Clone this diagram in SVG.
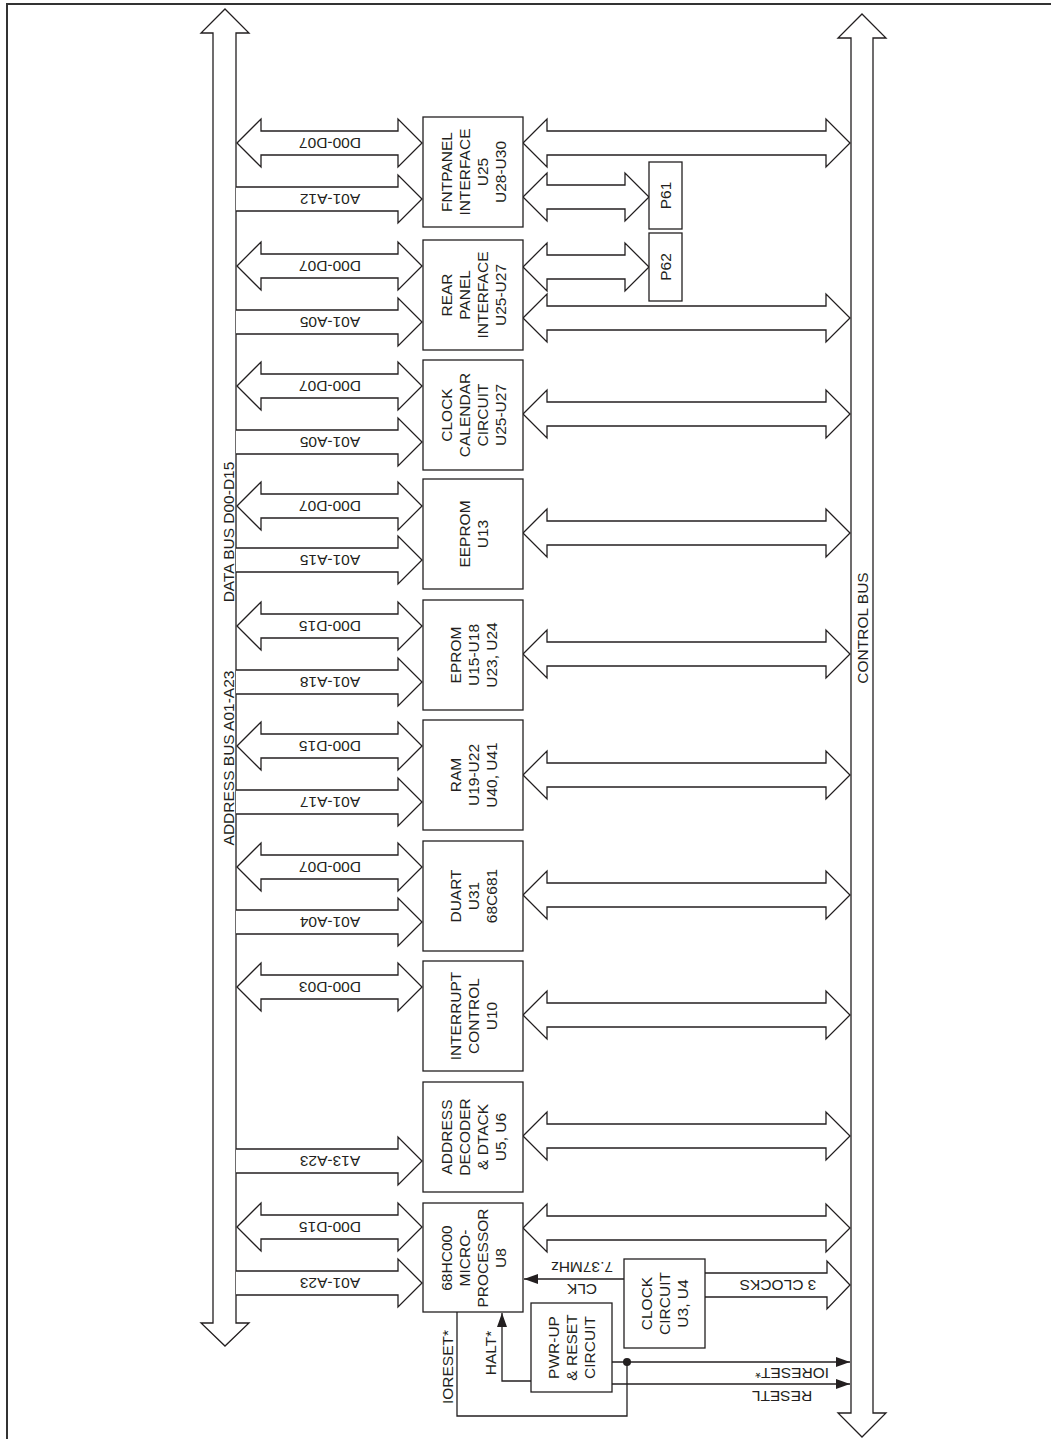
<svg xmlns="http://www.w3.org/2000/svg" xmlns:xlink="http://www.w3.org/1999/xlink" width="1051" height="1439" viewBox="0 0 1051 1439">
<style>
.ln{fill:none;stroke:#231f20;stroke-width:1.3}
.ar{fill:#fff;stroke:#231f20;stroke-width:1.3;stroke-linejoin:miter}
.bx{fill:#fff;stroke:#231f20;stroke-width:1.3}
.t{font-family:"Liberation Sans",Arial,sans-serif;font-size:15.5px;fill:#231f20;text-anchor:middle}
.frame{fill:none;stroke:#333;stroke-width:2}
</style>
<defs>
<path id="dataArrow" class="ar" d="M237 0 L261 -24 L261 -12 L398 -12 L398 -24 L422 0 L398 24 L398 12 L261 12 L261 24 Z"/>
<path id="addrArrow" class="ar" d="M236 -12 L398 -12 L398 -24 L422 0 L398 24 L398 12 L236 12"/>
<path id="ctrlArrow" class="ar" d="M523 0 L547 -24 L547 -12 L826 -12 L826 -24 L850 0 L826 24 L826 12 L547 12 L547 24 Z"/>
<path id="pArrow" class="ar" d="M523 0 L547 -24 L547 -12 L625 -12 L625 -24 L649 0 L625 24 L625 12 L547 12 L547 24 Z"/>
<marker id="head" markerUnits="userSpaceOnUse" markerWidth="16" markerHeight="12" refX="14" refY="5" orient="auto">
<path d="M0 0 L14 5 L0 10 Z" fill="#231f20"/>
</marker>
</defs>
<rect width="1051" height="1439" fill="#fff"/>
<path class="frame" d="M7 1439 L7 4 L1051 4"/>

<g id="address-data-bus">
<path class="ar" d="M225 9 L249 33 L236 33 L236 1323 L249 1323 L225 1346 L201 1323 L213 1323 L213 33 L201 33 Z"/>
<text class="t" x="228" y="763.5" transform="rotate(-90 228 758)">ADDRESS BUS A01-A23</text>
<text class="t" x="228" y="537.5" transform="rotate(-90 228 532)">DATA BUS D00-D15</text>
</g>
<g id="control-bus">
<path class="ar" d="M862 14 L886 38 L873 38 L873 1413 L886 1413 L862 1437 L838 1413 L851 1413 L851 38 L838 38 Z"/>
<text class="t" x="862" y="633.5" transform="rotate(-90 862 628)">CONTROL BUS</text>
</g>

<g id="connectors">
<use xlink:href="#dataArrow" transform="translate(0 143)"/>
<use xlink:href="#addrArrow" transform="translate(0 199)"/>
<use xlink:href="#ctrlArrow" transform="translate(0 143)"/>
<use xlink:href="#pArrow" transform="translate(0 197)"/>
<use xlink:href="#dataArrow" transform="translate(0 266)"/>
<use xlink:href="#addrArrow" transform="translate(0 322)"/>
<use xlink:href="#pArrow" transform="translate(0 267)"/>
<use xlink:href="#ctrlArrow" transform="translate(0 318)"/>
<use xlink:href="#dataArrow" transform="translate(0 386)"/>
<use xlink:href="#addrArrow" transform="translate(0 442)"/>
<use xlink:href="#ctrlArrow" transform="translate(0 414)"/>
<use xlink:href="#dataArrow" transform="translate(0 506)"/>
<use xlink:href="#addrArrow" transform="translate(0 560)"/>
<use xlink:href="#ctrlArrow" transform="translate(0 533)"/>
<use xlink:href="#dataArrow" transform="translate(0 626)"/>
<use xlink:href="#addrArrow" transform="translate(0 682)"/>
<use xlink:href="#ctrlArrow" transform="translate(0 654)"/>
<use xlink:href="#dataArrow" transform="translate(0 746)"/>
<use xlink:href="#addrArrow" transform="translate(0 802)"/>
<use xlink:href="#ctrlArrow" transform="translate(0 775)"/>
<use xlink:href="#dataArrow" transform="translate(0 867)"/>
<use xlink:href="#addrArrow" transform="translate(0 922)"/>
<use xlink:href="#ctrlArrow" transform="translate(0 895)"/>
<use xlink:href="#dataArrow" transform="translate(0 987)"/>
<use xlink:href="#ctrlArrow" transform="translate(0 1015)"/>
<use xlink:href="#addrArrow" transform="translate(0 1161)"/>
<use xlink:href="#ctrlArrow" transform="translate(0 1136)"/>
<use xlink:href="#dataArrow" transform="translate(0 1227)"/>
<use xlink:href="#addrArrow" transform="translate(0 1283)"/>
<use xlink:href="#ctrlArrow" transform="translate(0 1228)"/>
<path class="ar" d="M705 1273 L827 1273 L827 1261 L850 1285 L827 1309 L827 1297 L705 1297"/>
<path class="ln" d="M624 1279 L524 1279" marker-end="url(#head)"/>
<path class="ln" d="M531 1381 L502 1381 L502 1313" marker-end="url(#head)"/>
<path class="ln" d="M457 1312 L457 1416 L627 1416 L627 1362"/>
<path class="ln" d="M612 1362 L850 1362" marker-end="url(#head)"/>
<path class="ln" d="M612 1384 L850 1384" marker-end="url(#head)"/>
<circle cx="627" cy="1362" r="4" fill="#231f20"/>
<g class="t">
<text x="330" y="148.5" transform="rotate(180 330 143)">D00-D07</text>
<text x="330" y="204.5" transform="rotate(180 330 199)">A01-A12</text>
<text x="330" y="271.5" transform="rotate(180 330 266)">D00-D07</text>
<text x="330" y="327.5" transform="rotate(180 330 322)">A01-A05</text>
<text x="330" y="391.5" transform="rotate(180 330 386)">D00-D07</text>
<text x="330" y="447.5" transform="rotate(180 330 442)">A01-A05</text>
<text x="330" y="511.5" transform="rotate(180 330 506)">D00-D07</text>
<text x="330" y="565.5" transform="rotate(180 330 560)">A01-A15</text>
<text x="330" y="631.5" transform="rotate(180 330 626)">D00-D15</text>
<text x="330" y="687.5" transform="rotate(180 330 682)">A01-A18</text>
<text x="330" y="751.5" transform="rotate(180 330 746)">D00-D15</text>
<text x="330" y="807.5" transform="rotate(180 330 802)">A01-A17</text>
<text x="330" y="872.5" transform="rotate(180 330 867)">D00-D07</text>
<text x="330" y="927.5" transform="rotate(180 330 922)">A01-A04</text>
<text x="330" y="992.5" transform="rotate(180 330 987)">D00-D03</text>
<text x="330" y="1166.5" transform="rotate(180 330 1161)">A13-A23</text>
<text x="330" y="1232.5" transform="rotate(180 330 1227)">D00-D15</text>
<text x="330" y="1288.5" transform="rotate(180 330 1283)">A01-A23</text>
<text x="582" y="1272.5" transform="rotate(180 582 1267)">7.37MHz</text>
<text x="582" y="1294.5" transform="rotate(180 582 1289)">CLK</text>
<text x="778" y="1290.5" transform="rotate(180 778 1285)">3 CLOCKS</text>
<text x="792" y="1378.5" transform="rotate(180 792 1373)">IORESET*</text>
<text x="782" y="1401.5" transform="rotate(180 782 1396)">RESETL</text>
<text x="490" y="1358.5" transform="rotate(-90 490 1353)">HALT*</text>
<text x="447" y="1372.5" transform="rotate(-90 447 1367)">IORESET*</text>
</g>
</g>

<g id="fntpanel-interface">
<rect class="bx" x="423" y="117" width="100" height="110"/>
<g class="t" transform="rotate(-90 473 172)"><text x="473" y="150.5">FNTPANEL</text><text x="473" y="168.5">INTERFACE</text><text x="473" y="186.5">U25</text><text x="473" y="204.5">U28-U30</text></g>
</g>
<g id="p61">
<rect class="bx" x="649" y="162" width="33" height="67"/>
<text class="t" x="665.5" y="201" transform="rotate(-90 665.5 195.5)">P61</text>
</g>
<g id="p62">
<rect class="bx" x="649" y="233" width="33" height="68"/>
<text class="t" x="665.5" y="272.5" transform="rotate(-90 665.5 267)">P62</text>
</g>
<g id="rear-panel-interface">
<rect class="bx" x="423" y="240" width="100" height="110"/>
<g class="t" transform="rotate(-90 473 295)"><text x="473" y="273.5">REAR</text><text x="473" y="291.5">PANEL</text><text x="473" y="309.5">INTERFACE</text><text x="473" y="327.5">U25-U27</text></g>
</g>
<g id="clock-calendar">
<rect class="bx" x="423" y="360" width="100" height="110"/>
<g class="t" transform="rotate(-90 473 415)"><text x="473" y="393.5">CLOCK</text><text x="473" y="411.5">CALENDAR</text><text x="473" y="429.5">CIRCUIT</text><text x="473" y="447.5">U25-U27</text></g>
</g>
<g id="eeprom">
<rect class="bx" x="423" y="479" width="100" height="110"/>
<g class="t" transform="rotate(-90 473 534)"><text x="473" y="530.5">EEPROM</text><text x="473" y="548.5">U13</text></g>
</g>
<g id="eprom">
<rect class="bx" x="423" y="600" width="100" height="110"/>
<g class="t" transform="rotate(-90 473 655)"><text x="473" y="642.5">EPROM</text><text x="473" y="660.5">U15-U18</text><text x="473" y="678.5">U23, U24</text></g>
</g>
<g id="ram">
<rect class="bx" x="423" y="720" width="100" height="110"/>
<g class="t" transform="rotate(-90 473 775)"><text x="473" y="762.5">RAM</text><text x="473" y="780.5">U19-U22</text><text x="473" y="798.5">U40, U41</text></g>
</g>
<g id="duart">
<rect class="bx" x="423" y="841" width="100" height="110"/>
<g class="t" transform="rotate(-90 473 896)"><text x="473" y="883.5">DUART</text><text x="473" y="901.5">U31</text><text x="473" y="919.5">68C681</text></g>
</g>
<g id="interrupt-control">
<rect class="bx" x="423" y="961" width="100" height="110"/>
<g class="t" transform="rotate(-90 473 1016)"><text x="473" y="1003.5">INTERRUPT</text><text x="473" y="1021.5">CONTROL</text><text x="473" y="1039.5">U10</text></g>
</g>
<g id="address-decoder">
<rect class="bx" x="423" y="1082" width="100" height="110"/>
<g class="t" transform="rotate(-90 473 1137)"><text x="473" y="1115.5">ADDRESS</text><text x="473" y="1133.5">DECODER</text><text x="473" y="1151.5">&amp; DTACK</text><text x="473" y="1169.5">U5, U6</text></g>
</g>
<g id="microprocessor">
<rect class="bx" x="423" y="1203" width="100" height="109"/>
<g class="t" transform="rotate(-90 473 1258)"><text x="473" y="1236.5">68HC000</text><text x="473" y="1254.5">MICRO-</text><text x="473" y="1272.5">PROCESSOR</text><text x="473" y="1290.5">U8</text></g>
</g>
<g id="clock-circuit">
<rect class="bx" x="624" y="1259" width="81" height="89"/>
<g class="t" transform="rotate(-90 664.5 1303.5)"><text x="664.5" y="1291">CLOCK</text><text x="664.5" y="1309">CIRCUIT</text><text x="664.5" y="1327">U3, U4</text></g>
</g>
<g id="pwr-up-reset">
<rect class="bx" x="531" y="1303" width="81" height="89"/>
<g class="t" transform="rotate(-90 571.5 1347.5)"><text x="571.5" y="1335">PWR-UP</text><text x="571.5" y="1353">&amp; RESET</text><text x="571.5" y="1371">CIRCUIT</text></g>
</g>
</svg>
